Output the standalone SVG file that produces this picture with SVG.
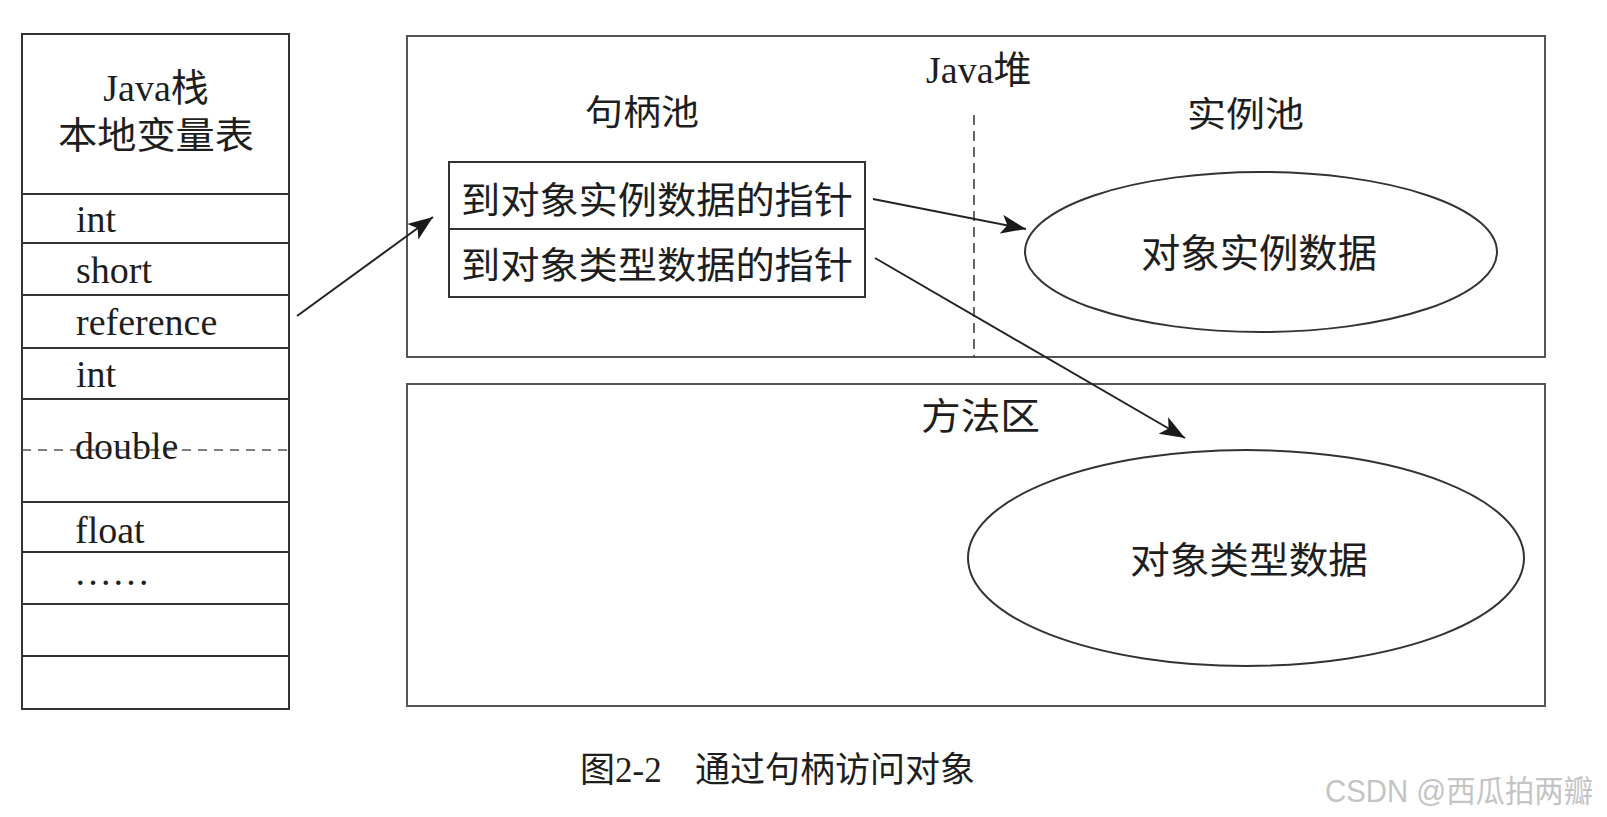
<svg xmlns="http://www.w3.org/2000/svg" width="1607" height="817" viewBox="0 0 1607 817">
<style>
.box{fill:none;stroke:#333;stroke-width:2}
.area{fill:none;stroke:#555;stroke-width:2}
.row{stroke:#333;stroke-width:2}
.lat{font-family:"Liberation Serif","Noto Sans CJK SC",serif;font-size:38px;fill:#1e1e1e}
.cap{font-family:"Liberation Serif","Noto Sans CJK SC",serif;font-size:35px;fill:#1e1e1e}
.cjk{font-family:"Noto Sans CJK SC",sans-serif;fill:#1e1e1e;dominant-baseline:central}
.conn{fill:none;stroke:#222;stroke-width:2}
</style>
<defs>
<marker id="arr" markerUnits="userSpaceOnUse" markerWidth="27" markerHeight="20" refX="25" refY="9.5" orient="auto">
<path d="M0,0 L25,9.5 L0,19 L6,9.5 Z" fill="#1a1a1a"/>
</marker>
</defs>
<rect width="1607" height="817" fill="#fff"/>

<g id="java-stack">
<rect class="box" x="22" y="34" width="267" height="675"/>
<line class="row" x1="22" y1="194" x2="289" y2="194"/>
<line class="row" x1="22" y1="243" x2="289" y2="243"/>
<line class="row" x1="22" y1="295" x2="289" y2="295"/>
<line class="row" x1="22" y1="348" x2="289" y2="348"/>
<line class="row" x1="22" y1="399" x2="289" y2="399"/>
<line class="row" x1="22" y1="502" x2="289" y2="502"/>
<line class="row" x1="22" y1="552" x2="289" y2="552"/>
<line class="row" x1="22" y1="604" x2="289" y2="604"/>
<line class="row" x1="22" y1="656" x2="289" y2="656"/>
<line x1="22" y1="450" x2="289" y2="450" stroke="#555" stroke-width="1.5" stroke-dasharray="9 7"/>
<text class="lat" x="156" y="101" text-anchor="middle">Java栈</text>
<text class="cjk" x="156" y="133" font-size="37" text-anchor="middle" textLength="196" lengthAdjust="spacingAndGlyphs">本地变量表</text>
<text class="lat" x="76" y="232">int</text>
<text class="lat" x="76" y="283">short</text>
<text class="lat" x="76" y="335">reference</text>
<text class="lat" x="76" y="387">int</text>
<text class="lat" x="75" y="459">double</text>
<text class="lat" x="75" y="543">float</text>
<text class="lat" x="74" y="585">……</text>
</g>

<g id="java-heap">
<rect class="area" x="407" y="36" width="1138" height="321"/>
<text class="lat" x="926" y="83">Java堆</text>
<line x1="974" y1="115" x2="974" y2="357" stroke="#333" stroke-width="1.5" stroke-dasharray="10 6"/>
</g>

<g id="handle-pool">
<text class="cjk" x="585" y="109" font-size="35" textLength="114" lengthAdjust="spacingAndGlyphs">句柄池</text>
<rect class="box" x="449" y="162" width="416" height="135"/>
<line class="row" x1="449" y1="229" x2="865" y2="229"/>
<text class="cjk" x="461" y="198" font-size="37" textLength="392" lengthAdjust="spacingAndGlyphs">到对象实例数据的指针</text>
<text class="cjk" x="461" y="263" font-size="37" textLength="392" lengthAdjust="spacingAndGlyphs">到对象类型数据的指针</text>
</g>

<g id="instance-pool">
<text class="cjk" x="1187" y="111" font-size="35" textLength="117" lengthAdjust="spacingAndGlyphs">实例池</text>
<ellipse class="box" cx="1261" cy="252" rx="236" ry="80" stroke-width="1.8"/>
<text class="cjk" x="1259" y="250" font-size="39" text-anchor="middle" textLength="236" lengthAdjust="spacingAndGlyphs">对象实例数据</text>
</g>

<g id="method-area">
<rect class="area" x="407" y="384" width="1138" height="322"/>
<text class="cjk" x="921" y="414" font-size="37" textLength="119" lengthAdjust="spacingAndGlyphs">方法区</text>
<ellipse class="box" cx="1246" cy="558" rx="278" ry="108" stroke-width="1.8"/>
<text class="cjk" x="1249" y="558" font-size="37" text-anchor="middle" textLength="238" lengthAdjust="spacingAndGlyphs">对象类型数据</text>
</g>

<g id="connectors">
<line class="conn" x1="297" y1="316" x2="433" y2="217" marker-end="url(#arr)"/>
<line class="conn" x1="873" y1="199" x2="1026" y2="229" marker-end="url(#arr)"/>
<line class="conn" x1="875" y1="258" x2="1185" y2="438" marker-end="url(#arr)"/>
</g>

<g id="caption">
<text class="cap" x="580" y="782">图2-2<tspan x="695">通过句柄访问对象</tspan></text>
</g>

<g id="watermark">
<text x="1325" y="802" font-family="'Liberation Sans','Noto Sans CJK SC',sans-serif" font-size="31" fill="#c4c4c4" textLength="268" lengthAdjust="spacingAndGlyphs">CSDN @西瓜拍两瓣</text>
</g>
</svg>
